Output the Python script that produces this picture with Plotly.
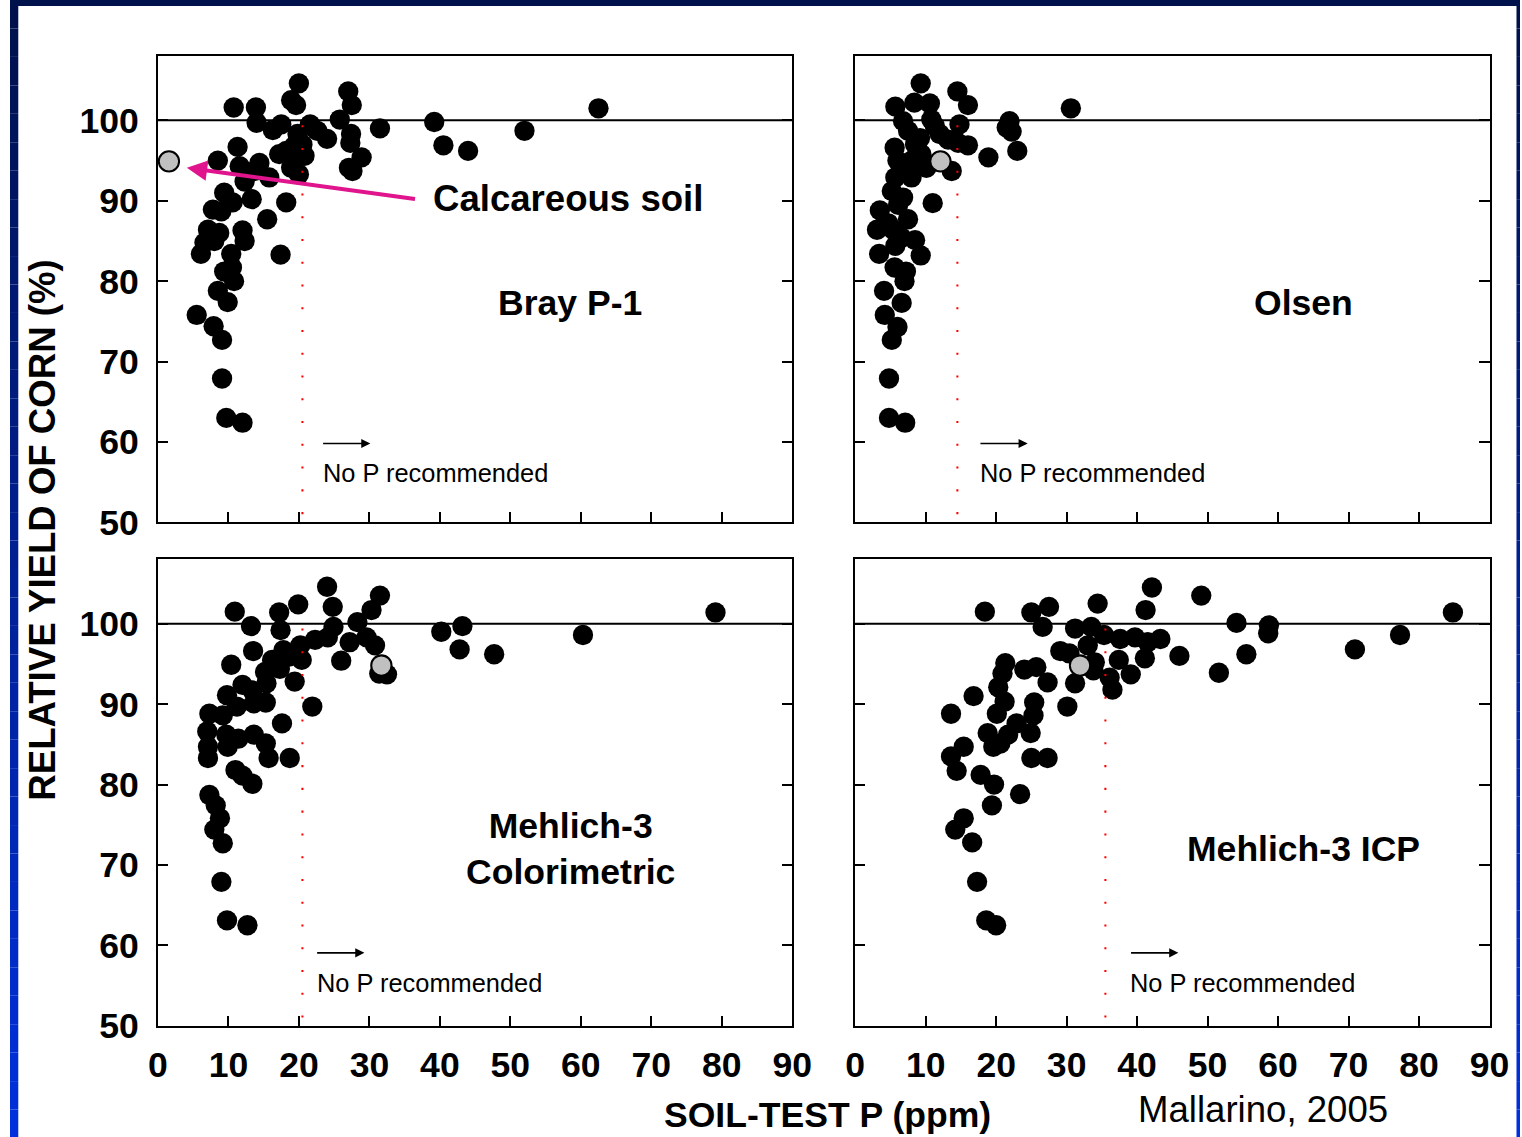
import plotly.graph_objects as go

# The photographed page shows the figure at a fixed scale/offset; compensate for it so the
# picture lands on the reference's pixel grid (reference coordinates R -> figure coordinates).
SX, SY = 0.983, 0.984
CX, CY = 8.7, -1.1
FW, FH = 1540, 1158
K = 1 / SY
FONT = "Liberation Sans, Arial, sans-serif"

# ---------------- data ----------------
# Bray P-1 (top-left)
bray_x = [10.75, 13.9, 14.0, 20.0, 18.9, 19.6, 27.0, 27.5, 25.8, 17.5, 16.3, 21.6, 24.0, 27.4, 27.3,
          28.9, 27.6, 27.1, 31.5, 39.2, 40.5, 44.0, 52.0, 62.5, 8.5, 11.3, 11.6, 14.4, 13.7, 12.3,
          15.8, 9.4, 10.6, 13.3, 7.8, 9.0, 18.2, 15.5, 7.1, 8.7, 6.6, 6.1, 8.0, 12.0, 12.3, 17.4,
          10.4, 10.5, 9.4, 10.8, 8.5, 9.9, 5.5, 7.9, 9.1, 9.1, 9.7, 12.0,
          19.8, 21.5, 22.6, 18.2, 19.3, 20.5, 19.1, 20.8, 18.9, 20.0, 17.2]
bray_y = [101.6, 101.6, 99.7, 104.6, 102.5, 101.9, 103.6, 101.9, 100.1, 99.5, 98.8, 99.5, 97.7, 98.3, 97.2,
          95.4, 93.7, 94.1, 99.0, 99.8, 96.9, 96.2, 98.7, 101.5, 95.0, 96.7, 94.3, 94.7, 93.7, 92.4,
          92.9, 91.0, 89.8, 90.2, 88.9, 88.7, 89.8, 87.7, 86.4, 86.0, 84.8, 83.4, 85.0, 86.3, 85.0, 83.3,
          83.4, 81.7, 81.2, 80.0, 78.8, 77.4, 75.8, 74.4, 72.7, 67.9, 63.0, 62.4,
          98.3, 99.3, 98.7, 96.2, 96.8, 97.0, 95.4, 95.6, 94.1, 93.3, 95.8]
bray_calc_x = [1.56]
bray_calc_y = [94.9]

# Olsen (top-right)
olsen_x = [9.3, 14.5, 16.0, 5.7, 8.4, 10.6, 6.8, 10.8, 11.3, 14.8, 21.9, 21.5, 22.2, 30.6, 16.0,
           13.2, 14.6, 18.9, 23.0, 13.7, 5.6, 6.0, 8.5, 7.5, 9.4, 10.1, 8.0, 5.7, 5.2, 6.8,
           11.0, 3.5, 7.5, 3.1, 5.4, 8.5, 3.4, 5.7, 9.3, 5.6, 7.2, 7.0, 4.1, 6.6, 4.2,
           6.0, 5.2, 4.8, 4.8, 7.1, 6.6, 8.0, 9.2, 12.0, 6.1, 4.7, 6.6]
olsen_y = [104.6, 103.6, 101.9, 101.7, 102.2, 102.1, 99.9, 100.1, 99.3, 99.5, 99.9, 99.1, 98.6, 101.5, 96.9,
           97.6, 97.2, 95.4, 96.2, 93.7, 96.6, 95.0, 97.0, 98.7, 95.8, 94.1, 92.9, 92.9, 91.2, 90.4,
           89.7, 88.8, 87.7, 86.4, 86.4, 85.1, 83.4, 84.4, 83.2, 81.7, 81.2, 80.0, 78.8, 77.3, 75.8,
           74.3, 72.7, 67.9, 63.0, 62.4, 94.1, 95.0, 97.8, 98.3, 89.5, 87.2, 85.4]
olsen_calc_x = [12.1]
olsen_calc_y = [94.9]

# Mehlich-3 colorimetric (bottom-left)
m3c_x = [10.9, 13.2, 17.2, 19.9, 24.0, 24.8, 31.5, 30.3, 28.3, 17.4, 24.9, 24.1, 22.3, 20.2, 27.2,
         29.6, 30.8, 26.0, 13.5, 10.4, 17.8, 16.2, 18.6, 20.4, 17.3, 15.2, 19.4, 15.4, 12.0, 13.4,
         9.8, 11.2, 13.6, 15.3, 21.9, 7.3, 9.2, 17.6, 7.0, 9.7, 11.4, 13.6, 15.3, 9.9, 7.1,
         7.1, 15.7, 18.7, 11.0, 12.0, 13.4, 7.3, 8.2, 8.8, 8.0, 9.2, 9.0, 9.8, 12.7,
         31.4, 32.5, 40.2, 43.2, 42.8, 47.7, 60.3, 79.1]
m3c_y = [101.5, 99.7, 101.4, 102.4, 104.6, 102.1, 103.5, 101.7, 100.2, 99.2, 99.6, 98.3, 98.0, 97.3, 97.7,
         98.3, 97.3, 95.4, 96.6, 94.9, 96.7, 95.5, 95.9, 95.5, 94.4, 94.0, 92.8, 92.6, 92.4, 91.7,
         91.1, 89.7, 90.1, 90.2, 89.7, 88.8, 88.6, 87.6, 86.6, 86.2, 85.7, 86.2, 85.1, 84.7, 84.7,
         83.3, 83.3, 83.3, 81.8, 81.1, 80.1, 78.7, 77.4, 75.8, 74.4, 72.7, 67.9, 63.1, 62.5,
         93.8, 93.7, 99.0, 99.7, 96.8, 96.2, 98.6, 101.4]
m3c_calc_x = [31.7]
m3c_calc_y = [94.8]

# Mehlich-3 ICP (bottom-right)
m3i_x = [18.4, 25.0, 27.5, 26.6, 34.4, 42.1, 41.2, 49.1, 54.1, 58.7, 58.6, 77.3, 84.8, 70.9, 55.5,
         51.6, 46.0, 43.3, 41.1, 39.7, 41.5, 37.6, 35.3, 33.5, 31.2, 33.0, 29.1, 30.4, 34.0, 33.8,
         37.4, 39.1, 36.1, 36.5, 31.2, 30.1, 21.3, 20.9, 20.3, 24.0, 25.7, 27.3, 16.8, 13.6, 21.2,
         20.1, 25.4, 25.3, 22.9, 21.7, 18.8, 19.6, 24.9, 20.6, 15.4, 13.6, 14.4, 25.0, 27.3, 17.8,
         19.7, 23.4, 19.4, 15.4, 14.2, 16.6, 17.3, 18.6, 20.0]
m3i_y = [101.5, 101.4, 102.1, 99.6, 102.5, 104.5, 101.7, 103.5, 100.1, 99.8, 98.8, 98.6, 101.4, 96.8, 96.2,
         93.9, 96.0, 98.1, 95.7, 98.3, 97.7, 98.1, 98.6, 99.6, 99.4, 97.3, 96.6, 96.3, 95.2, 94.2,
         95.5, 93.7, 93.3, 91.8, 92.6, 89.7, 95.1, 93.8, 92.1, 94.3, 94.6, 92.7, 91.0, 88.8, 90.3,
         88.8, 90.2, 88.6, 87.6, 86.2, 86.4, 84.7, 86.4, 85.1, 84.7, 83.5, 81.7, 83.3, 83.3, 81.2,
         80.0, 78.8, 77.4, 75.8, 74.4, 72.8, 67.9, 63.1, 62.5]
m3i_calc_x = [31.9]
m3i_calc_y = [94.8]

panel_names = ["Bray P-1", "Olsen", "Mehlich-3<br>Colorimetric", "Mehlich-3 ICP"]
critical_p = [20.5, 14.5, 20.5, 35.5]
x_ticks = [0, 10, 20, 30, 40, 50, 60, 70, 80, 90]
y_ticks = [50, 60, 70, 80, 90, 100]


# ---------------- helpers ----------------
def px(x):
    return ((x - CX) / SX) / FW


def py(y):
    return 1 - ((y - CY) / SY) / FH


def k(v):
    return v * K


fig = go.Figure()

panels = [
    ("x", "y", bray_x, bray_y, bray_calc_x, bray_calc_y),
    ("x2", "y2", olsen_x, olsen_y, olsen_calc_x, olsen_calc_y),
    ("x3", "y3", m3c_x, m3c_y, m3c_calc_x, m3c_calc_y),
    ("x4", "y4", m3i_x, m3i_y, m3i_calc_x, m3i_calc_y),
]
for xa, ya, xs, ys, cx, cy in panels:
    fig.add_trace(go.Scatter(x=xs, y=ys, xaxis=xa, yaxis=ya, mode="markers",
                             marker=dict(size=k(20), color="black", line=dict(width=0)),
                             showlegend=False, hoverinfo="x+y"))
    fig.add_trace(go.Scatter(x=cx, y=cy, xaxis=xa, yaxis=ya, mode="markers",
                             marker=dict(size=k(20), color="#c0c0c0", line=dict(width=k(2), color="black")),
                             showlegend=False, hoverinfo="x+y"))

xdom_l = [px(157), px(793)]
xdom_r = [px(856), px(1492)]
ydom_t = [py(522), py(55)]
ydom_b = [py(1026), py(559)]

tickfont = dict(family=FONT, size=k(35), color="black", weight="bold")


def xaxis(dom, anchor, labels):
    return dict(domain=dom, anchor=anchor, range=[0, 90], tickvals=x_ticks,
                showticklabels=labels, ticks="inside", ticklen=k(10), tickwidth=k(2), tickcolor="black",
                showline=True, linewidth=k(2), linecolor="black", mirror=True,
                showgrid=False, zeroline=False, tickfont=tickfont, ticklabelstandoff=round(k(7)),
                fixedrange=True)


def yaxis(dom, anchor, labels):
    return dict(domain=dom, anchor=anchor, range=[50, 108], tickvals=y_ticks,
                showticklabels=labels, ticks="inside", ticklen=k(10), tickwidth=k(2), tickcolor="black",
                showline=True, linewidth=k(2), linecolor="black", mirror="ticks",
                showgrid=False, zeroline=False, tickfont=tickfont, ticklabelstandoff=round(k(10)),
                fixedrange=True)


fig.update_layout(
    width=FW, height=FH,
    margin=dict(l=0, r=0, t=0, b=0),
    paper_bgcolor="white", plot_bgcolor="white",
    xaxis=xaxis(xdom_l, "y", False), yaxis=yaxis(ydom_t, "x", True),
    xaxis2=xaxis(xdom_r, "y2", False), yaxis2=yaxis(ydom_t, "x2", False),
    xaxis3=xaxis(xdom_l, "y3", True), yaxis3=yaxis(ydom_b, "x3", True),
    xaxis4=xaxis(xdom_r, "y4", True), yaxis4=yaxis(ydom_b, "x4", False),
)

shapes = []
# 100% reference lines and critical-value dotted lines
for (xa, ya, *_), crit in zip(panels, critical_p):
    shapes.append(dict(type="line", xref=f"{xa} domain", yref=ya, x0=0, x1=1, y0=100, y1=100,
                       line=dict(color="black", width=k(2))))
    shapes.append(dict(type="line", xref=xa, yref=ya, x0=crit, x1=crit, y0=99.4, y1=50.3,
                       line=dict(color="red", width=k(2), dash=f"{k(2):.2f}px,{k(20.4):.2f}px")))

# slide frame (blue gradient border)
N = 40
top_c = (0, 16, 74)
bot_c = (0, 48, 222)
for i in range(N):
    t = (i + 0.5) / N
    c = tuple(round(a + (b - a) * t) for a, b in zip(top_c, bot_c))
    col = f"rgb{c}"
    y1 = 1 - i / N
    y0 = 1 - (i + 1) / N
    shapes.append(dict(type="rect", xref="paper", yref="paper", x0=0, x1=max(px(17), 0), y0=y0, y1=y1,
                       line=dict(width=0), fillcolor=col, layer="above"))
    shapes.append(dict(type="rect", xref="paper", yref="paper", x0=px(1519), x1=1, y0=y0, y1=y1,
                       line=dict(width=0), fillcolor=col, layer="above"))
shapes.append(dict(type="rect", xref="paper", yref="paper", x0=0, x1=1, y0=py(5), y1=1,
                   line=dict(width=0), fillcolor="rgb(0,18,76)", layer="above"))
fig.update_layout(shapes=shapes)


def ann(text, x, y, size, bold=True, xanchor="center", angle=0):
    return dict(text=text, x=px(x), y=py(y), xref="paper", yref="paper", showarrow=False,
                font=dict(family=FONT, size=k(size), color="black", weight="bold" if bold else "normal"),
                xanchor=xanchor, yanchor="middle", textangle=angle)


annotations = [
    ann(panel_names[0], 570, 302, 35),
    ann(panel_names[1], 1305, 302, 35),
    ann(panel_names[2], 571, 849, 35),
    ann(panel_names[3], 1305, 849, 35),
    ann("Calcareous soil", 568, 198, 36),
    ann("RELATIVE YIELD OF CORN (%)", 41, 530, 36, angle=-90),
    ann("SOIL-TEST P (ppm)", 828, 1115, 35),
    ann("Mallarino, 2005", 1265, 1110, 36, bold=False),
]
# "No P recommended" labels with small arrows
for tx, ty in [(320, 473), (979, 473), (314, 983), (1130, 983)]:
    annotations.append(ann("No P recommended", tx, ty, 25, bold=False, xanchor="left"))
    annotations.append(dict(text="", x=px(tx + 50), y=py(ty - 30), xref="paper", yref="paper",
                            showarrow=True, ax=-k(48), ay=0, arrowhead=2, arrowsize=1.2,
                            arrowwidth=k(1.5), arrowcolor="black", standoff=0))
# magenta arrow pointing at calcareous soil point
annotations.append(dict(text="", x=4.1, y=94.1, xref="x", yref="y", showarrow=True,
                        ax=k(226), ay=k(31), arrowhead=2, arrowsize=1, arrowwidth=k(4),
                        arrowcolor="#e0148c", standoff=0))
fig.update_layout(annotations=annotations)

fig.write_html("out.html")
